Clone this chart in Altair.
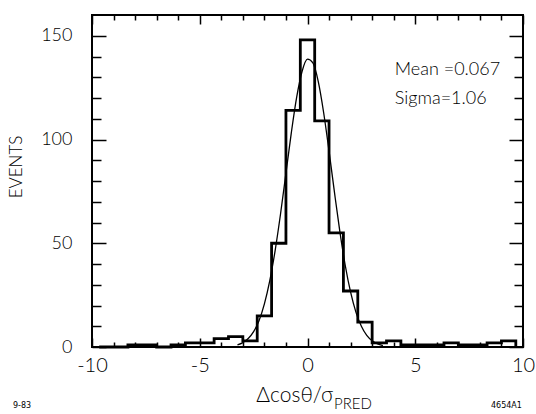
import altair as alt
import pandas as pd

# ---- data ----
bin_width = 2.0 / 3.0
bin_centers = [-9.333, -8.667, -8.0, -7.333, -6.667, -6.0, -5.333, -4.667, -4.0,
               -3.333, -2.667, -2.0, -1.333, -0.667, 0.0, 0.667, 1.333, 2.0,
               2.667, 3.333, 4.0, 4.667, 5.333, 6.0, 6.667, 7.333, 8.0, 8.667, 9.333]
events = [0, 0, 1, 1, 0, 1, 2, 2, 4, 5, 3, 15, 50, 114, 148, 109, 55, 27, 12,
          2, 3, 1, 1, 1, 2, 1, 1, 2, 3]

fit_x = [-3.25, -3.0, -2.75, -2.5, -2.25, -2.0, -1.75, -1.5, -1.25, -1.0, -0.75,
         -0.5, -0.25, 0.0, 0.25, 0.5, 0.75, 1.0, 1.25, 1.5, 1.75, 2.0, 2.25,
         2.5, 2.75, 3.0, 3.25, 3.5]
fit_y = [1.0, 2.1, 4.1, 7.4, 12.7, 20.8, 32.0, 46.6, 64.2, 83.8, 103.3, 120.5,
         132.9, 138.7, 136.9, 127.9, 112.9, 94.4, 74.6, 55.7, 39.4, 26.4, 16.7,
         10.0, 5.6, 3.0, 1.5, 0.7]

x_major = [-10, -5, 0, 5, 10]
x_minor = [-9, -8, -7, -6, -4, -3, -2, -1, 1, 2, 3, 4, 6, 7, 8, 9]
y_major = [0, 50, 100, 150]
y_minor = [10, 20, 30, 40, 60, 70, 80, 90, 110, 120, 130, 140]

ann_text = ["Mean =0.067", "Sigma=1.06"]
ann_x = [4.05, 4.05]
ann_y = [131, 117]

FONT = "Lato"

# step outline of the histogram
edges = [c - bin_width / 2 for c in bin_centers] + [bin_centers[-1] + bin_width / 2]
hist_df = pd.DataFrame({"x": edges, "y": events + [0]})
fit_df = pd.DataFrame({"x": fit_x, "y": fit_y})

xs = alt.Scale(domain=[-10, 10], nice=False, zero=False)
ys = alt.Scale(domain=[0, 160], nice=False, zero=False)


def ax(orient, values, size, labels=False, fs=18, pad=8):
    kw = dict(orient=orient, values=values, tickSize=size, offset=-size,
              domain=False, grid=False, labels=labels, title=None,
              tickColor="black", tickWidth=1.5)
    if labels:
        kw.update(labelFontSize=fs, labelFont=FONT, labelColor="black",
                  labelPadding=pad, labelFlush=False, labelFontWeight=300,
                  labelExpr="'' + datum.value")
    return alt.Axis(**kw)


hist = alt.Chart(hist_df).mark_line(
    interpolate="step-after", color="black", strokeWidth=2.8
).encode(
    x=alt.X("x:Q", scale=xs, axis=ax("bottom", x_major, 9, True, 20, 8)),
    y=alt.Y("y:Q", scale=ys, axis=ax("left", y_major, 14, True, 18, 20)),
)

fit = alt.Chart(fit_df).mark_line(
    interpolate="monotone", color="black", strokeWidth=1.3
).encode(
    x=alt.X("x:Q", scale=xs, axis=ax("bottom", x_minor, 5)),
    y=alt.Y("y:Q", scale=ys, axis=ax("left", y_minor, 9)),
)

ann1 = alt.Chart(pd.DataFrame({"x": ann_x[:1], "y": ann_y[:1], "t": ann_text[:1]})).mark_text(
    align="left", baseline="alphabetic", fontSize=18, font=FONT, fontWeight=300, color="black"
).encode(
    x=alt.X("x:Q", scale=xs, axis=ax("top", x_major, 9)),
    y=alt.Y("y:Q", scale=ys, axis=ax("right", y_major, 14)),
    text="t:N",
)

ann2 = alt.Chart(pd.DataFrame({"x": ann_x[1:], "y": ann_y[1:], "t": ann_text[1:]})).mark_text(
    align="left", baseline="alphabetic", fontSize=18, font=FONT, fontWeight=300, color="black"
).encode(
    x=alt.X("x:Q", scale=xs, axis=ax("top", x_minor, 5)),
    y=alt.Y("y:Q", scale=ys, axis=ax("right", y_minor, 9)),
    text="t:N",
)

# axis titles and plate notes (placed in pixels relative to the plot area)
ytitle = alt.Chart(pd.DataFrame({"t": ["EVENTS"]})).mark_text(
    angle=270, fontSize=17, font=FONT, fontWeight=300, color="black",
    align="center", baseline="middle"
).encode(x=alt.value(-75), y=alt.value(152), text="t:N")

xtitle = alt.Chart(pd.DataFrame({"t": ["\u0394cos\u03b8/\u03c3"]})).mark_text(
    fontSize=21, font=FONT, fontWeight=300, color="black",
    align="right", baseline="alphabetic"
).encode(x=alt.value(241), y=alt.value(387), text="t:N")

xsub = alt.Chart(pd.DataFrame({"t": ["PRED"]})).mark_text(
    fontSize=15, font=FONT, fontWeight=300, color="black",
    align="left", baseline="alphabetic"
).encode(x=alt.value(242), y=alt.value(394), text="t:N")

note_l = alt.Chart(pd.DataFrame({"t": ["9-83"]})).mark_text(
    fontSize=8, font="DejaVu Sans", color="black", align="left", baseline="middle"
).encode(x=alt.value(-79), y=alt.value(391), text="t:N")

note_r = alt.Chart(pd.DataFrame({"t": ["4654A1"]})).mark_text(
    fontSize=8, font="DejaVu Sans", color="black", align="left", baseline="middle"
).encode(x=alt.value(399), y=alt.value(391), text="t:N")

chart = alt.layer(
    hist, fit, ann1, ann2, ytitle, xtitle, xsub, note_l, note_r
).resolve_axis(x="independent", y="independent").properties(
    width=431, height=332,
    autosize=alt.AutoSizeParams(type="none"),
    padding={"left": 92, "top": 15, "right": 13, "bottom": 67},
    background="white",
).configure_view(stroke="black", strokeWidth=2)

chart.save("out.html", embed_options={"renderer": "svg", "actions": False})
